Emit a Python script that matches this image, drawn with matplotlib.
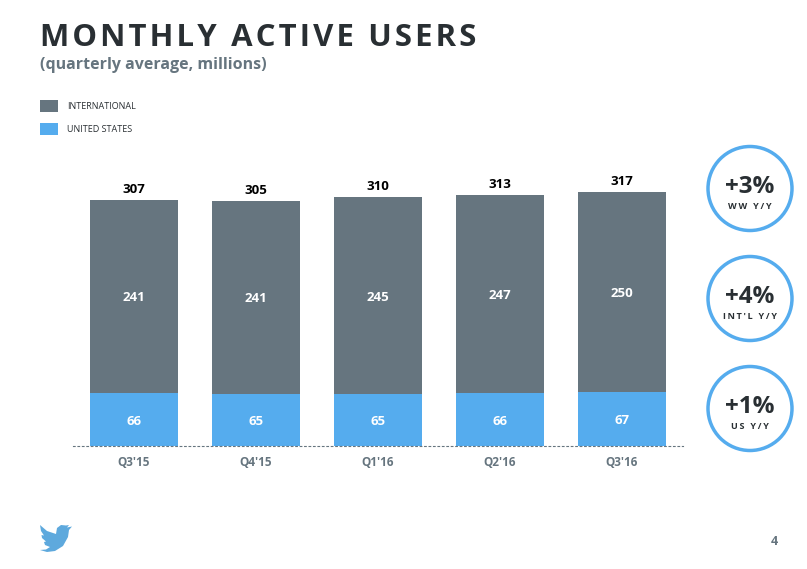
import numpy as np
import matplotlib
matplotlib.use("Agg")
import matplotlib.pyplot as plt
from matplotlib.patches import Circle, Rectangle, Polygon

plt.rcParams['font.family'] = ['Open Sans', 'DejaVu Sans']

# data
quarters = ["Q3'15", "Q4'15", "Q1'16", "Q2'16", "Q3'16"]
international = [241, 241, 245, 247, 250]
united_states = [66, 65, 65, 66, 67]
totals = [307, 305, 310, 313, 317]
growth_values = ["+3%", "+4%", "+1%"]
growth_labels = ["WW Y/Y", "INT'L Y/Y", "US Y/Y"]

GREY = "#66757f"
BLUE = "#55acee"
DARK = "#292f33"
HAIR = "\u200a"


def spaced(s, n=1):
    # no letter spacing in matplotlib, so put hair spaces in between
    return (HAIR * n).join(s)


W, H = 807, 569
fig = plt.figure(figsize=(W / 100, H / 100), dpi=100)

# chart
ax = fig.add_axes([73 / W, 1 - 446 / H, 610 / W, 300 / H])
x = np.arange(len(quarters))
ax.bar(x, united_states, width=0.715, color=BLUE)
ax.bar(x, international, width=0.715, bottom=united_states, color=GREY)
for i in x:
    ax.text(i, united_states[i] / 2, str(united_states[i]), color="white", fontsize=9.5,
            fontweight="bold", ha="center", va="center_baseline")
    ax.text(i, united_states[i] + international[i] / 2, str(international[i]), color="white",
            fontsize=9.5, fontweight="bold", ha="center", va="center_baseline")
    ax.text(i, totals[i] + 5, str(totals[i]), color="black", fontsize=9.5,
            fontweight="bold", ha="center", va="bottom")
ax.set_xlim(-0.5, 4.5)
ax.set_ylim(0, 374)
ax.set_yticks([])
ax.set_xticks(x, quarters, color=GREY, fontsize=8.5, fontweight="bold")
ax.tick_params(axis="x", length=0, pad=7)
for s in ["top", "left", "right"]:
    ax.spines[s].set_visible(False)
ax.spines["bottom"].set_linestyle((0, (1.5, 2.5)))
ax.spines["bottom"].set_color(GREY)
ax.spines["bottom"].set_linewidth(0.8)

# overlay in pixel coordinates for the slide furniture
ov = fig.add_axes([0, 0, 1, 1])
ov.set_xlim(0, W)
ov.set_ylim(H, 0)
ov.axis("off")
ov.patch.set_alpha(0)

ov.text(40, 46, spaced("MONTHLY ACTIVE USERS", 1), color=DARK, fontsize=22.4, fontweight="bold",
        va="baseline", ha="left")
ov.text(40, 69, "(quarterly average, millions)", color=GREY, fontsize=11.5, fontweight="bold",
        va="baseline", ha="left")

ov.add_patch(Rectangle((40, 100), 18, 12, color=GREY, lw=0))
ov.add_patch(Rectangle((40, 123), 18, 12, color=BLUE, lw=0))
ov.text(67, 105.5, "INTERNATIONAL", color=DARK, fontsize=6.5, va="center_baseline", ha="left")
ov.text(67, 128.5, "UNITED STATES", color=DARK, fontsize=6.5, va="center_baseline", ha="left")

centers = [(750, 188.5), (750, 298.5), (750, 408.5)]
for (cx, cy), val, lab in zip(centers, growth_values, growth_labels):
    ov.add_patch(Circle((cx, cy), 42, fill=False, ec=BLUE, lw=2.5))
    ov.text(cx, cy - 4.5, val, color=DARK, fontsize=17.5, fontweight="bold", ha="center", va="center_baseline")
    ov.text(cx, cy + 16.5, spaced(lab, 2), color=DARK, fontsize=6.5, fontweight="bold", ha="center",
            va="center_baseline")

# logo
bird = [(40, 525), (47, 531), (56, 534), (57, 528), (61, 525), (66, 525.5), (69, 525), (67, 527.5),
        (72, 526.5), (69, 530), (68, 537), (63, 546), (55, 551), (47, 552), (40, 550), (46, 549.5),
        (50, 547), (45, 545), (44, 542), (46, 541.5), (42, 538), (41.5, 535), (44, 535.5), (41, 531)]
ov.add_patch(Polygon(bird, closed=True, color="#5ea9dd", lw=0))

ov.text(774, 540, "4", color=GREY, fontsize=9, fontweight="bold", ha="center", va="center_baseline")

fig.savefig("out.png", dpi=100)
